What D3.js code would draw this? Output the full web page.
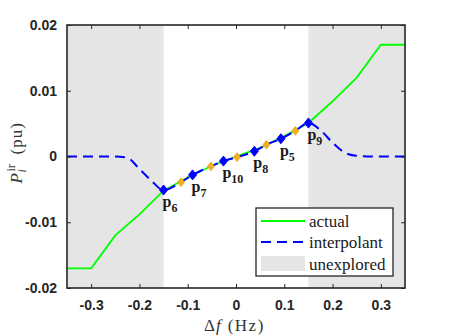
<!DOCTYPE html>
<html>
<head>
<meta charset="utf-8">
<script src="https://cdn.jsdelivr.net/npm/d3@7"></script>
<style>
body{margin:0;background:#fff;}
.axis text{font-family:"Liberation Sans",Arial,sans-serif;font-weight:bold;font-size:14px;fill:#262626;}
.axis line{stroke:#262626;stroke-width:1;}
.axis path{display:none;}
.serif{font-family:"Liberation Serif","Times New Roman",serif;}
</style>
</head>
<body>
<div class="chart"></div>
<script>
// actual curve (green)
const actualX = [-0.35,-0.30,-0.25,-0.20,-0.15,-0.10,-0.05,0,0.05,0.10,0.15,0.20,0.25,0.30,0.35];
const actualY = [-0.017,-0.017,-0.0120,-0.0088,-0.0052,-0.0032,-0.0014,0,0.0013,0.0031,0.0051,0.0084,0.0120,0.017,0.017];
// interpolant (blue dashed)
const interpX = [-0.35,-0.30,-0.25,-0.225,-0.20,-0.175,-0.15,-0.114,-0.090,-0.052,-0.026,0.002,0.038,0.063,0.093,0.123,0.150,0.175,0.20,0.225,0.25,0.30,0.35];
const interpY = [0,0,0,-0.0002,-0.0019,-0.0037,-0.0051,-0.0039,-0.0028,-0.0015,-0.0007,-0.0001,0.0008,0.0018,0.0027,0.0039,0.0051,0.0040,0.0021,0.0006,0.0001,0,0];
// sample nodes
const nodeX = [-0.150,-0.090,-0.026,0.038,0.093,0.150];
const nodeY = [-0.0051,-0.0028,-0.0007,0.0008,0.0027,0.0051];
const nodeLabels = ["6","7","10","8","5","9"];
// intermediate points (orange)
const midX = [-0.114,-0.052,0.002,0.063,0.123];
const midY = [-0.0039,-0.0015,-0.0001,0.0018,0.0039];
// unexplored regions
const unexplored = [[-0.35,-0.15],[0.15,0.35]];
const xTicks = [-0.3,-0.2,-0.1,0,0.1,0.2,0.3];
const yTicks = [-0.02,-0.01,0,0.01,0.02];
const legendLabels = ["actual","interpolant","unexplored"];

let margin = {top:25, right:44, left:67, bottom:48};
let outWidth = 449, outHeight = 336;
let width = outWidth - margin.left - margin.right,
	height = outHeight - margin.top - margin.bottom;

const svg = d3.select('.chart').append('svg')
	.attr("width", outWidth)
	.attr("height", outHeight);

const g = svg.append("g")
	.attr("transform", `translate(${margin.left}, ${margin.top})`);

const x = d3.scaleLinear().domain([-0.35, 0.35]).range([0, width]);
const y = d3.scaleLinear().domain([-0.02, 0.02]).range([height, 0]);

// shaded
g.selectAll("rect.unexp")
	.data(unexplored)
	.enter()
	.append("rect")
	.attr("class","unexp")
	.attr("x", d=>x(d[0]))
	.attr("y", 0)
	.attr("width", d=>x(d[1])-x(d[0]))
	.attr("height", height)
	.attr("fill", "#e5e5e5");

const line = d3.line().x(d=>x(d[0])).y(d=>y(d[1]));

g.append("path")
	.datum(actualX.map((v,i)=>[v, actualY[i]]))
	.attr("d", line)
	.attr("fill","none")
	.attr("stroke","#00ff00")
	.attr("stroke-width",1.8);

g.append("path")
	.datum(interpX.map((v,i)=>[v, interpY[i]]))
	.attr("d", line.curve(d3.curveMonotoneX))
	.attr("fill","none")
	.attr("stroke","#0000ff")
	.attr("stroke-width",2)
	.attr("stroke-dasharray","10,6");

function diamond(cx, cy, w, h){
	const p = d3.path();
	p.moveTo(cx, cy-h); p.lineTo(cx+w, cy); p.lineTo(cx, cy+h); p.lineTo(cx-w, cy); p.closePath();
	return p.toString();
}

g.selectAll("path.mid")
	.data(midX.map((v,i)=>[v, midY[i]]))
	.enter()
	.append("path")
	.attr("class","mid")
	.attr("d", d=>diamond(x(d[0]), y(d[1]), 3.5, 4.5))
	.attr("fill","#EDB120")
	.attr("stroke","#EDB120")
	.attr("stroke-width",0.8);

g.selectAll("path.node")
	.data(nodeX.map((v,i)=>[v, nodeY[i]]))
	.enter()
	.append("path")
	.attr("class","node")
	.attr("d", d=>diamond(x(d[0]), y(d[1]), 4, 5))
	.attr("fill","#0000ff")
	.attr("stroke","#0000ff")
	.attr("stroke-width",1);

// node labels
const lab = g.selectAll("text.lab")
	.data(nodeLabels)
	.enter()
	.append("text")
	.attr("class","lab serif")
	.attr("x", (d,i)=>x(nodeX[i]) - 1)
	.attr("y", (d,i)=>y(nodeY[i]) + 17)
	.attr("font-weight","bold")
	.attr("font-size","16px")
	.attr("fill","#1a1a1a");
lab.append("tspan").text("p");
lab.append("tspan").attr("font-size","12px").attr("dy",5).text(d=>d);

// axes
const fmt = d=> d===0 ? "0" : String(d);
g.append("g").attr("class","axis")
	.attr("transform",`translate(0,${height})`)
	.call(d3.axisBottom(x).tickValues(xTicks).tickFormat(fmt).tickSizeInner(-4).tickSizeOuter(0).tickPadding(12));
g.append("g").attr("class","axis")
	.call(d3.axisTop(x).tickValues(xTicks).tickFormat("").tickSizeInner(-4).tickSizeOuter(0));
g.append("g").attr("class","axis")
	.call(d3.axisLeft(y).tickValues(yTicks).tickFormat(fmt).tickSizeInner(-4).tickSizeOuter(0).tickPadding(10));
g.append("g").attr("class","axis")
	.attr("transform",`translate(${width},0)`)
	.call(d3.axisRight(y).tickValues(yTicks).tickFormat("").tickSizeInner(-4).tickSizeOuter(0));

g.append("rect")
	.attr("width", width)
	.attr("height", height)
	.attr("fill","none")
	.attr("stroke","#262626")
	.attr("stroke-width",1.6);

// x title
const xt = svg.append("text")
	.attr("class","serif")
	.attr("x", 204)
	.attr("y", 331)
	.attr("font-size","17px")
	.attr("fill","#333");
xt.append("tspan").text("\u0394");
xt.append("tspan").attr("dx",1).attr("font-style","italic").text("f");
xt.append("tspan").attr("dx",7).attr("letter-spacing","1.5").text("(Hz)");

// y title
const yt = svg.append("g")
	.attr("transform",`translate(22, ${margin.top + height/2}) rotate(-90)`)
	.attr("class","serif")
	.attr("fill","#333");
yt.append("text").attr("x",-27).attr("y",0).attr("font-size","17px").attr("font-style","italic").text("P");
yt.append("text").attr("x",-15).attr("y",-7).attr("font-size","12px").text("ir");
yt.append("text").attr("x",-16).attr("y",4).attr("font-size","12px").attr("font-style","italic").text("i");
yt.append("text").attr("x",2).attr("y",0).attr("font-size","17px").attr("letter-spacing","1").text("(pu)");

// legend
const leg = svg.append("g").attr("transform","translate(256,208)");
leg.append("rect")
	.attr("width",137).attr("height",68)
	.attr("fill","#fff").attr("stroke","#262626").attr("stroke-width",1.3);
leg.append("line").attr("x1",5).attr("x2",49).attr("y1",13).attr("y2",13)
	.attr("stroke","#00ff00").attr("stroke-width",1.8);
leg.append("line").attr("x1",5).attr("x2",49).attr("y1",34).attr("y2",34)
	.attr("stroke","#0000ff").attr("stroke-width",2).attr("stroke-dasharray","10,6");
leg.append("rect").attr("x",5).attr("y",48).attr("width",44).attr("height",15).attr("fill","#e5e5e5");
leg.selectAll("text")
	.data(legendLabels)
	.enter()
	.append("text")
	.attr("class","serif")
	.attr("x",53)
	.attr("y",(_,i)=>19 + i*21.3)
	.attr("font-size","17px")
	.attr("fill","#1a1a1a")
	.text(d=>d);
</script>
</body>
</html>
